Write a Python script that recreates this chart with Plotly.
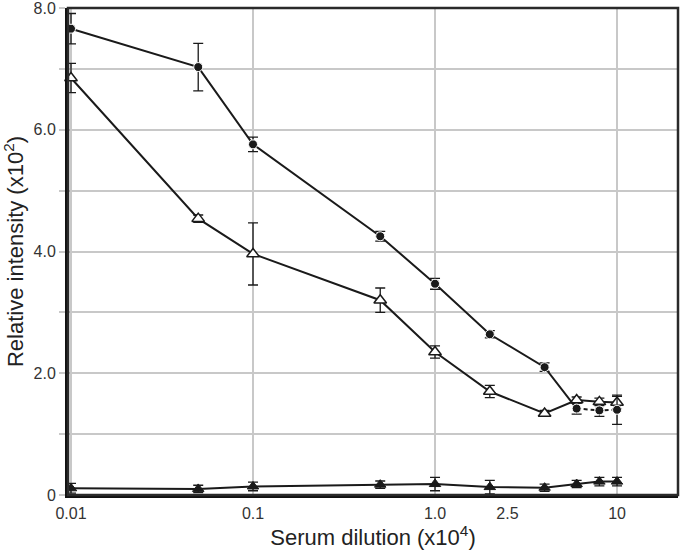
import plotly.graph_objects as go

# Serum dilution (x10^4)
dilution = [0.01, 0.05, 0.1, 0.5, 1.0, 2.0, 4.0, 6.0, 8.0, 10.0]

# Relative intensity (x10^2)
circle_vals = [7.66, 7.03, 5.76, 4.25, 3.47, 2.64, 2.10, 1.42, 1.39, 1.40]
circle_err = [0.25, 0.39, 0.12, 0.08, 0.09, 0.06, 0.07, 0.09, 0.10, 0.24]

open_tri_vals = [6.85, 4.54, 3.96, 3.20, 2.35, 1.70, 1.34, 1.56, 1.53, 1.52]
open_tri_err = [0.24, 0.06, 0.51, 0.20, 0.10, 0.10, 0.05, 0.05, 0.06, 0.10]

filled_tri_vals = [0.11, 0.10, 0.14, 0.17, 0.18, 0.13, 0.12, 0.18, 0.22, 0.22]
filled_tri_err = [0.08, 0.06, 0.07, 0.06, 0.11, 0.11, 0.06, 0.06, 0.07, 0.07]

x_tick_vals = [0.01, 0.1, 1.0, 2.5, 10]
x_tick_text = ["0.01", "0.1", "1.0", "2.5", "10"]
x_grid_vals = [0.01, 0.1, 1.0, 10]
y_tick_vals = [0, 2, 4, 6, 7.999]
y_tick_text = ["0", "2.0", "4.0", "6.0", "8.0"]

INK = "#1a1a1a"
GRID = "#c8c8c8"

fig = go.Figure()

def err(vals):
    return dict(type="data", array=vals, visible=True, color=INK, thickness=1.3, width=5)

# filled triangles
fig.add_trace(go.Scatter(
    x=dilution, y=filled_tri_vals, mode="lines+markers",
    line=dict(color=INK, width=2),
    marker=dict(symbol="triangle-up", size=10, color=INK, line=dict(color=INK, width=1)),
    error_y=err(filled_tri_err), cliponaxis=False, showlegend=False))

# open triangles
fig.add_trace(go.Scatter(
    x=dilution, y=open_tri_vals, mode="lines+markers",
    line=dict(color=INK, width=2),
    marker=dict(symbol="triangle-up", size=11, color="white", line=dict(color=INK, width=1.5)),
    error_y=err(open_tri_err), cliponaxis=False, showlegend=False))

# filled circles: solid part then dashed tail
fig.add_trace(go.Scatter(
    x=dilution[7:], y=circle_vals[7:], mode="lines",
    line=dict(color=INK, width=2, dash="4px,3px"), showlegend=False, hoverinfo="skip"))
fig.add_trace(go.Scatter(
    x=dilution[:8], y=circle_vals[:8], mode="lines",
    line=dict(color=INK, width=2), showlegend=False, hoverinfo="skip"))
fig.add_trace(go.Scatter(
    x=dilution, y=circle_vals, mode="markers",
    marker=dict(symbol="circle", size=9, color=INK, line=dict(color="white", width=1)),
    error_y=err(circle_err), cliponaxis=False, showlegend=False))

fig.update_layout(
    width=680, height=550,
    margin=dict(l=68, r=2, t=8, b=55),
    paper_bgcolor="white", plot_bgcolor="white",
    font=dict(family="Liberation Sans, Arial, sans-serif", color="#333333"),
    xaxis=dict(
        type="log", range=[-2.0165, 1.335], automargin=False,
        tickvals=x_tick_vals, ticktext=x_tick_text,
        tickfont=dict(size=16, color="#333333"),
        ticks="outside", ticklen=2, tickcolor="rgba(0,0,0,0)",
        ticklabeloverflow="allow",
        showgrid=False, zeroline=False,
        minor=dict(tickvals=x_grid_vals, showgrid=True, gridcolor=GRID, gridwidth=1.5, ticks=""),
        showline=True, linecolor="#111111", linewidth=3,
        title=dict(text="Serum dilution (x10<sup>4</sup>)", font=dict(size=22, color="#222222")),
    ),
    yaxis=dict(
        range=[0, 8], automargin=False,
        tickvals=y_tick_vals, ticktext=y_tick_text,
        tickfont=dict(size=16, color="#333333"),
        ticks="outside", ticklen=6, tickcolor=GRID, tickwidth=1.5,
        ticklabeloverflow="allow",
        showgrid=True, gridcolor=GRID, gridwidth=1.5, zeroline=False,
        minor=dict(dtick=1, showgrid=True, gridcolor=GRID, gridwidth=1.5,
                   ticks="outside", ticklen=6, tickcolor=GRID, tickwidth=1.5),
        showline=True, linecolor="#111111", linewidth=3,
        title=dict(text="Relative intensity (x10<sup>2</sup>)", font=dict(size=22, color="#222222")),
    ),
    shapes=[dict(type="rect", xref="paper", yref="paper", x0=0, x1=1, y0=0, y1=1,
                 line=dict(color="#2a2a2a", width=2.5), fillcolor="rgba(0,0,0,0)", layer="above")],
)

fig.write_html("out.html", config={"displayModeBar": False},
               post_script="document.body.style.margin='0';")
